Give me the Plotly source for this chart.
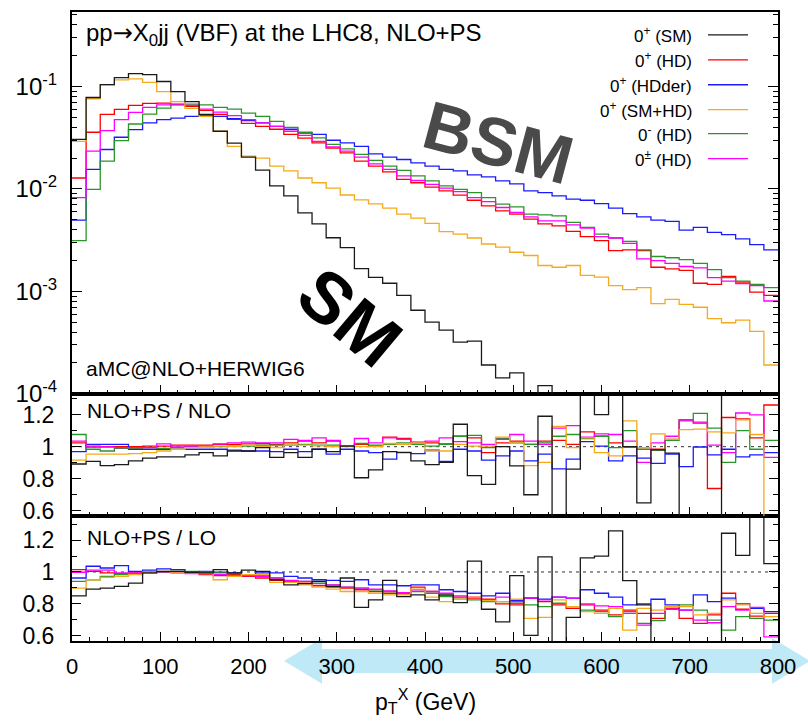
import plotly.graph_objects as go

# ---------------- data ----------------
bin_edges = list(range(0, 801, 16))  # 50 bins of 16 GeV
series_names = ["0<sup>+</sup> (SM)", "0<sup>+</sup> (HD)", "0<sup>+</sup> (HDder)",
                "0<sup>+</sup> (SM+HD)", "0<sup>-</sup> (HD)", "0<sup>±</sup> (HD)"]
series_colors = ["#1a1a1a", "#ff0000", "#1a1aff", "#f5aa1a", "#2a962a", "#ff00ff"]

# top panel: normalised distributions
dist_sm = [0.0305, 0.0782, 0.1045, 0.122, 0.134, 0.131, 0.112, 0.0894, 0.0714, 0.0535,
           0.0366, 0.028, 0.0205, 0.0153, 0.0107, 0.00855, 0.00585, 0.00457, 0.00334, 0.00267,
           0.00167, 0.00137, 0.0012, 0.000915, 0.000654, 0.0005, 0.000418, 0.00032, 0.000327, 0.000191,
           0.000143, 0.00016, 8e-5, 0.00012, 7e-5, 6e-5, 5e-5, 5e-5, 4e-5, 4e-5,
           3e-5, 3e-5, 3e-5, 2.5e-5, 2e-5, 2e-5, 2e-5, 1.5e-5, 1.5e-5, 1e-5]
dist_hd = [0.0128, 0.0358, 0.0535, 0.0598, 0.0654, 0.0684, 0.0690, 0.0668, 0.0640, 0.0585,
           0.0535, 0.0478, 0.0437, 0.0409, 0.0383, 0.0342, 0.0313, 0.0282, 0.0250, 0.0225,
           0.0187, 0.0167, 0.0147, 0.0124, 0.0115, 0.0104, 0.00957, 0.00869, 0.00776, 0.00684,
           0.00611, 0.00568, 0.00508, 0.00456, 0.00437, 0.00385, 0.00342, 0.00313, 0.00250, 0.00254,
           0.00250, 0.00172, 0.00166, 0.00160, 0.00120, 0.00117, 0.00140, 0.00123, 0.000985, 0.000915]
dist_hdder = [0.00497, 0.0155, 0.0243, 0.0320, 0.0380, 0.0441, 0.0475, 0.0492, 0.0511, 0.0523,
              0.0511, 0.0486, 0.0465, 0.0441, 0.0409, 0.0383, 0.0352, 0.0342, 0.0299, 0.0282,
              0.0261, 0.0220, 0.0205, 0.0194, 0.0180, 0.0167, 0.0155, 0.0150, 0.0137, 0.0131,
              0.0120, 0.0112, 0.00957, 0.00921, 0.00855, 0.00794, 0.00776, 0.00720, 0.00650, 0.00575,
              0.00535, 0.00497, 0.00482, 0.00397, 0.00421, 0.00377, 0.00358, 0.00325, 0.00286, 0.00254]
dist_smhd = [0.0292, 0.0760, 0.104, 0.116, 0.119, 0.110, 0.0894, 0.0714, 0.0611, 0.0511,
             0.0366, 0.0261, 0.0209, 0.0200, 0.0167, 0.0150, 0.0128, 0.0115, 0.0102, 0.00873,
             0.00782, 0.00715, 0.00650, 0.00568, 0.00520, 0.00462, 0.00383, 0.00363, 0.00332, 0.00290,
             0.00270, 0.00241, 0.00224, 0.00179, 0.00172, 0.00179, 0.00143, 0.00138, 0.00114, 0.00104,
             0.00109, 0.000760, 0.000836, 0.000748, 0.000700, 0.000543, 0.000494, 0.000523, 0.000406, 0.000191]
dist_odd = [0.00313, 0.00993, 0.0187, 0.0297, 0.0431, 0.0538, 0.0616, 0.0663, 0.0673, 0.0663,
            0.0625, 0.0602, 0.0550, 0.0511, 0.0457, 0.0400, 0.0358, 0.0315, 0.0272, 0.0246,
            0.0218, 0.0190, 0.0167, 0.0152, 0.0134, 0.0120, 0.0107, 0.00993, 0.00921, 0.00824,
            0.00710, 0.00668, 0.00568, 0.00559, 0.00547, 0.00471, 0.00421, 0.00363, 0.00332, 0.00308,
            0.00254, 0.00219, 0.00213, 0.00204, 0.00188, 0.00163, 0.00136, 0.00126, 0.00117, 0.00109]
dist_mix = [0.00824, 0.0234, 0.0372, 0.0475, 0.0559, 0.0625, 0.0663, 0.0673, 0.0654, 0.0602,
            0.0563, 0.0520, 0.0475, 0.0441, 0.0409, 0.0366, 0.0334, 0.0292, 0.0257, 0.0234,
            0.0205, 0.0176, 0.0155, 0.0134, 0.0121, 0.0111, 0.0102, 0.00942, 0.00824, 0.00753,
            0.00659, 0.00589, 0.00535, 0.00489, 0.00489, 0.00447, 0.00415, 0.00342, 0.00332, 0.00294,
            0.00208, 0.00200, 0.00188, 0.00175, 0.00170, 0.00136, 0.00126, 0.00119, 0.00114, 0.000805]

# middle panel: NLO+PS / NLO
rnlo_sm = [0.892, 0.908, 0.882, 0.888, 0.912, 0.929, 0.937, 0.937, 0.949, 0.963,
           0.943, 0.973, 0.973, 0.994, 0.933, 0.963, 0.933, 0.984, 0.969, 1.004,
           0.806, 0.855, 0.969, 0.965, 0.912, 0.888, 0.902, 1.14, 0.82, 0.765,
           1.0, 0.88, 0.70, 1.19, 0.45, 0.86, 1.45, 1.2, 1.45, 1.0,
           0.65, 0.98, 0.96, 0.45, 0.45, 0.45, 1.5, 1.5, 1.5, 1.5]
rnlo_hd = [1.024, 0.998, 1.0, 1.0, 1.0, 1.004, 1.004, 1.01, 1.01, 1.01,
           1.014, 1.014, 1.018, 1.02, 1.014, 1.024, 1.035, 1.024, 1.035, 1.004,
           1.014, 1.004, 1.059, 1.051, 1.029, 1.024, 1.018, 1.065, 1.055, 0.963,
           1.024, 1.035, 1.014, 1.035, 1.039, 1.014, 1.092, 1.065, 1.024, 0.998,
           0.994, 0.984, 1.045, 1.167, 1.147, 0.739, 1.182, 1.173, 1.055, 1.26]
rnlo_hdder = [0.969, 1.014, 1.014, 1.014, 0.984, 0.984, 0.984, 0.984, 0.984, 0.984,
              0.984, 0.978, 0.973, 0.973, 0.969, 0.984, 0.969, 0.984, 0.953, 0.984,
              0.973, 0.963, 0.922, 0.963, 0.957, 0.978, 0.908, 0.984, 0.973, 0.916,
              0.943, 0.973, 0.912, 0.953, 0.861, 0.922, 1.031, 1.004, 0.912, 0.943,
              0.929, 0.896, 0.953, 0.876, 0.998, 0.949, 0.984, 0.937, 0.949, 0.963]
rnlo_smhd = [0.916, 0.953, 0.953, 0.953, 0.957, 0.963, 0.973, 0.984, 0.994, 0.998,
             1.004, 1.0, 1.01, 1.0, 0.995, 1.01, 1.01, 1.005, 1.0, 1.0,
             1.0, 1.0, 1.02, 1.014, 1.024, 0.973, 0.973, 1.014, 1.004, 1.004,
             1.059, 1.024, 0.882, 0.902, 1.127, 0.994, 1.055, 0.963, 0.943, 1.161,
             0.994, 1.08, 1.045, 1.106, 1.11, 1.092, 1.086, 1.167, 1.076, 0.4]
rnlo_odd = [1.076, 0.984, 0.973, 0.99, 0.99, 0.994, 0.99, 0.995, 1.0, 1.0,
            1.0, 1.004, 1.004, 1.01, 1.01, 1.01, 1.014, 1.01, 1.01, 1.004,
            1.02, 1.01, 1.014, 1.024, 1.014, 1.004, 1.014, 1.065, 1.071, 0.994,
            1.051, 1.024, 1.014, 1.024, 1.065, 1.076, 1.051, 1.065, 0.994, 1.10,
            0.984, 0.978, 1.039, 1.167, 1.208, 1.116, 0.902, 1.10, 0.984, 1.039]
rnlo_mix = [1.035, 1.004, 0.998, 0.994, 0.994, 0.994, 1.018, 0.998, 1.004, 1.004,
            1.018, 1.024, 1.029, 1.024, 1.024, 1.045, 1.039, 1.055, 1.039, 1.004,
            1.051, 1.024, 1.055, 1.045, 1.024, 1.035, 1.055, 1.031, 1.024, 1.014,
            1.045, 1.076, 1.035, 1.014, 1.116, 1.131, 1.059, 1.08, 1.076, 1.035,
            0.902, 1.024, 1.065, 1.161, 1.153, 1.01, 0.963, 1.21, 1.198, 0.933]

# bottom panel: NLO+PS / LO
rlo_sm = [0.849, 0.892, 0.898, 0.909, 0.93, 0.994, 1.004, 1.004, 0.998, 0.994,
          1.015, 0.994, 1.011, 1.004, 0.951, 0.919, 0.926, 0.941, 0.909, 0.962,
          0.777, 0.824, 0.947, 0.845, 0.856, 0.824, 0.856, 0.807, 1.068, 0.765,
          0.686, 0.977, 0.601, 1.095, 0.45, 0.714, 1.089, 1.10, 1.259, 0.945,
          0.792, 0.45, 0.45, 0.45, 0.45, 0.45, 1.244, 1.104, 1.5, 1.053]
rlo_hd = [1.015, 1.004, 0.994, 0.989, 0.994, 0.998, 1.0, 0.994, 0.994, 0.983,
          0.977, 0.983, 0.972, 0.962, 0.947, 0.941, 0.93, 0.913, 0.905, 0.898,
          0.888, 0.877, 0.866, 0.862, 0.905, 0.877, 0.849, 0.841, 0.835, 0.828,
          0.799, 0.792, 0.835, 0.813, 0.792, 0.771, 0.792, 0.76, 0.729, 0.76,
          0.739, 0.707, 0.771, 0.707, 0.676, 0.729, 0.866, 0.765, 0.722, 0.739]
rlo_hdder = [0.962, 1.036, 1.025, 1.04, 1.004, 1.011, 1.019, 1.015, 0.998, 1.004,
             0.998, 0.994, 0.983, 0.994, 0.994, 0.972, 0.962, 0.951, 0.947, 0.941,
             0.951, 0.919, 0.919, 0.913, 0.919, 0.919, 0.888, 0.877, 0.866, 0.849,
             0.866, 0.82, 0.835, 0.828, 0.841, 0.835, 0.888, 0.866, 0.841, 0.792,
             0.799, 0.828, 0.792, 0.76, 0.856, 0.813, 0.835, 0.799, 0.771, 0.75]
rlo_smhd = [0.898, 0.951, 0.966, 0.972, 0.983, 0.998, 1.004, 0.994, 0.994, 0.989,
            0.951, 0.972, 0.983, 0.983, 0.934, 0.934, 0.919, 0.905, 0.892, 0.877,
            0.877, 0.866, 0.856, 0.856, 0.892, 0.841, 0.813, 0.828, 0.841, 0.82,
            0.813, 0.828, 0.707, 0.714, 0.824, 0.782, 0.75, 0.739, 0.771, 0.633,
            0.771, 0.76, 0.782, 0.782, 0.729, 0.739, 0.824, 0.792, 0.739, 0.718]
rlo_odd = [0.941, 0.951, 0.972, 0.983, 0.989, 0.994, 0.998, 1.004, 1.004, 0.998,
           0.994, 0.989, 0.983, 0.977, 0.962, 0.947, 0.941, 0.93, 0.919, 0.905,
           0.898, 0.888, 0.877, 0.866, 0.877, 0.866, 0.845, 0.828, 0.824, 0.813,
           0.813, 0.803, 0.792, 0.782, 0.803, 0.782, 0.76, 0.75, 0.718, 0.739,
           0.676, 0.693, 0.782, 0.792, 0.76, 0.697, 0.633, 0.718, 0.707, 0.697]
rlo_mix = [0.998, 1.011, 1.011, 0.994, 0.994, 0.998, 1.0, 0.998, 0.989, 0.989,
           0.983, 0.977, 0.977, 0.972, 0.962, 0.945, 0.941, 0.926, 0.919, 0.905,
           0.898, 0.892, 0.881, 0.87, 0.888, 0.877, 0.866, 0.849, 0.841, 0.824,
           0.841, 0.813, 0.835, 0.824, 0.841, 0.835, 0.799, 0.786, 0.782, 0.75,
           0.665, 0.739, 0.765, 0.76, 0.697, 0.68, 0.782, 0.76, 0.777, 0.591]

top_series = [dist_sm, dist_hd, dist_hdder, dist_smhd, dist_odd, dist_mix]
mid_series = [rnlo_sm, rnlo_hd, rnlo_hdder, rnlo_smhd, rnlo_odd, rnlo_mix]
bot_series = [rlo_sm, rlo_hd, rlo_hdder, rlo_smhd, rlo_odd, rlo_mix]

y_tick_top = [1e-4, 1e-3, 1e-2, 1e-1]
y_tick_top_text = ["10<sup>-4</sup>", "10<sup>-3</sup>", "10<sup>-2</sup>", "10<sup>-1</sup>"]
y_tick_ratio = [0.6, 0.8, 1.0, 1.2]
y_tick_ratio_text = ["0.6", "0.8", "1", "1.2"]
x_ticks = [0, 100, 200, 300, 400, 500, 600, 700, 800]

# ---------------- geometry (pixels) ----------------
W, H = 808, 721
L, R = 72, 778
T, B = 10, 641
Y_TOP_BOT = 393
Y_MID_BOT = 516

def px(x):
    return (x - L) / (R - L)

def py(y):
    return (B - y) / (B - T)

FONT = "Liberation Sans, Arial, Helvetica, sans-serif"

fig = go.Figure()

def step(vals):
    return list(vals) + [vals[-1]]

order = [1, 2, 4, 5, 3, 0]
for i in order:
    for vals, xa, ya in ((top_series[i], "x3", "y3"), (mid_series[i], "x2", "y2"), (bot_series[i], "x", "y")):
        fig.add_trace(go.Scatter(x=bin_edges, y=step(vals), mode="lines", line_shape="hv",
                                 line=dict(color=series_colors[i], width=1.3),
                                 xaxis=xa, yaxis=ya, showlegend=False, hoverinfo="skip"))

axis_common = dict(showline=True, linewidth=2, linecolor="black", showgrid=False, zeroline=False,
                   ticks="inside", tickcolor="black", tickwidth=1)

xcommon = dict(axis_common, range=[0, 800], mirror=True, tickvals=x_ticks, ticklen=9,
               minor=dict(ticks="inside", ticklen=4, dtick=20, tick0=0, tickcolor="black"))

minor_log = [m * 10.0 ** e for e in (-4, -3, -2, -1) for m in range(2, 10)]
ratio_minor = dict(ticks="inside", ticklen=5, tickvals=[0.7, 0.9, 1.1, 1.3], tickcolor="black")

fig.update_layout(
    width=W, height=H, paper_bgcolor="white", plot_bgcolor="white",
    margin=dict(l=L, r=W - R, t=T, b=H - B),
    font=dict(family=FONT, color="black", size=20),
    xaxis=dict(xcommon, domain=[0, 1], anchor="y", ticktext=[str(v) for v in x_ticks],
               tickfont=dict(size=22), showticklabels=True, ticklabelstandoff=5),
    xaxis2=dict(xcommon, domain=[0, 1], anchor="y2", matches="x", showticklabels=False),
    xaxis3=dict(xcommon, domain=[0, 1], anchor="y3", matches="x", showticklabels=False),
    yaxis=dict(axis_common, domain=[0, py(Y_MID_BOT)], range=[0.565, 1.35], mirror="allticks",
               tickvals=y_tick_ratio, ticktext=y_tick_ratio_text, ticklen=9, minor=ratio_minor,
               tickfont=dict(size=23), ticklabelstandoff=11),
    yaxis2=dict(axis_common, domain=[py(Y_MID_BOT), py(Y_TOP_BOT)], range=[0.565, 1.33], mirror="allticks",
                tickvals=y_tick_ratio, ticktext=y_tick_ratio_text, ticklen=9, minor=ratio_minor,
                tickfont=dict(size=23), ticklabelstandoff=11),
    yaxis3=dict(axis_common, type="log", domain=[py(Y_TOP_BOT), 1], range=[-4, -0.272], mirror="allticks",
                tickvals=y_tick_top, ticktext=y_tick_top_text, ticklen=10,
                minor=dict(ticks="inside", ticklen=5, tickvals=minor_log, tickcolor="black"),
                tickfont=dict(size=24), ticklabelstandoff=8),
)

shapes = []
# light-blue double arrow below the x axis
ax0, ax1 = 284, 810
ay_c = 661
shapes.append(dict(type="path", xref="paper", yref="paper", layer="below",
                   path=("M {} {} L {} {} L {} {} L {} {} L {} {} L {} {} L {} {} L {} {} L {} {} L {} {} Z").format(
                       px(ax0), py(ay_c), px(ax0 + 38), py(ay_c - 23), px(ax0 + 38), py(ay_c - 12),
                       px(ax1 - 38), py(ay_c - 12), px(ax1 - 38), py(ay_c - 23), px(ax1), py(ay_c),
                       px(ax1 - 38), py(ay_c + 23), px(ax1 - 38), py(ay_c + 12), px(ax0 + 38), py(ay_c + 12),
                       px(ax0 + 38), py(ay_c + 23)),
                   fillcolor="#bfe9f7", line=dict(width=0)))
# dotted unity lines
for xa, ya in (("x2", "y2"), ("x", "y")):
    shapes.append(dict(type="line", xref=xa, yref=ya, x0=0, x1=800, y0=1, y1=1,
                       line=dict(color="#333333", width=1, dash="3px,4px"), layer="below"))
# legend samples
leg_y = [33, 58, 83, 108, 132, 157]
for i, yy in enumerate(leg_y):
    shapes.append(dict(type="line", xref="paper", yref="paper", x0=px(708), x1=px(748),
                       y0=py(yy), y1=py(yy), line=dict(color=series_colors[i], width=1.3)))
fig.update_layout(shapes=shapes)

ann = []
for i, yy in enumerate(leg_y):
    ann.append(dict(text=series_names[i], x=px(694), y=py(yy), xref="paper", yref="paper",
                    xanchor="right", yanchor="middle", showarrow=False, font=dict(size=17)))
ann.append(dict(text="pp<span style=\"font-family:'DejaVu Sans'\">→</span>X<sub>0</sub>jj (VBF) at the LHC8, NLO+PS",
                x=px(84), y=py(33), xref="paper", yref="paper", xanchor="left", yanchor="middle",
                showarrow=False, font=dict(size=24)))
ann.append(dict(text="aMC@NLO+HERWIG6", x=px(84), y=py(368), xref="paper", yref="paper",
                xanchor="left", yanchor="middle", showarrow=False, font=dict(size=21)))
ann.append(dict(text="NLO+PS / NLO", x=px(85), y=py(410), xref="paper", yref="paper",
                xanchor="left", yanchor="middle", showarrow=False, font=dict(size=21)))
ann.append(dict(text="NLO+PS / LO", x=px(85), y=py(537), xref="paper", yref="paper",
                xanchor="left", yanchor="middle", showarrow=False, font=dict(size=21)))
ann.append(dict(text="<b>BSM</b>", x=px(498), y=py(140), xref="paper", yref="paper",
                xanchor="center", yanchor="middle", showarrow=False, textangle=15,
                font=dict(size=68, color="#4a4a4a")))
ann.append(dict(text="<b>SM</b>", x=px(350), y=py(316), xref="paper", yref="paper",
                xanchor="center", yanchor="middle", showarrow=False, textangle=40,
                font=dict(size=72, color="black")))
ann.append(dict(text="p<sub>T</sub><sup>X</sup> (GeV)", x=px(425), y=py(701), xref="paper", yref="paper",
                xanchor="center", yanchor="middle", showarrow=False, font=dict(size=23)))
fig.update_layout(annotations=ann)

fig.write_html("out.html")
